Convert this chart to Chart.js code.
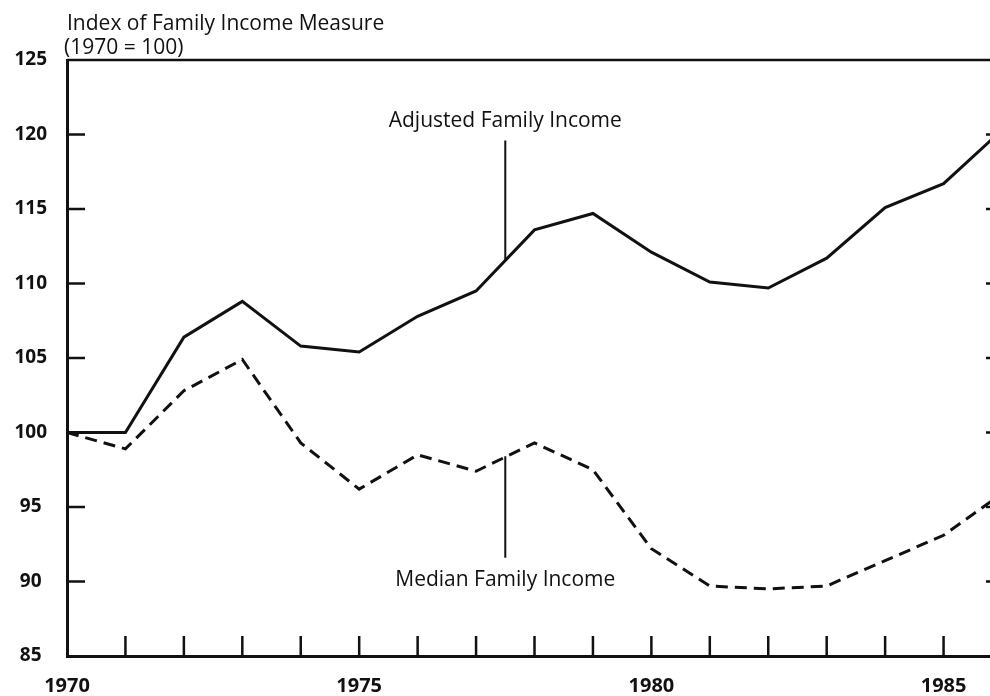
<!DOCTYPE html>
<html>
<head>
<meta charset="utf-8">
<script src="https://cdn.jsdelivr.net/npm/chart.js@4"></script>
<style>
  html, body { margin: 0; padding: 0; background: #fff; overflow: hidden; }
  #wrap { position: relative; width: 1002px; height: 696px; }
</style>
</head>
<body>
<div id="wrap"><canvas id="myChart"></canvas></div>
<script>
const years = [1970, 1971, 1972, 1973, 1974, 1975, 1976, 1977, 1978,
               1979, 1980, 1981, 1982, 1983, 1984, 1985, 1986];
const adjustedIncome = [100, 100, 106.4, 108.8, 105.8, 105.4, 107.8, 109.5, 113.6,
                        114.7, 112.1, 110.1, 109.7, 111.7, 115.1, 116.7, 120.3];
const medianIncome = [100, 98.9, 102.8, 104.9, 99.3, 96.2, 98.5, 97.4, 99.3,
                      97.5, 92.2, 89.7, 89.5, 89.7, 91.4, 93.1, 95.9];
const yearLabels = [1970, 1975, 1980, 1985];
const titleLines = ['Index of Family Income Measure', '(1970 = 100)'];

// callouts: label text, year of the leader line, where the text and line sit (index values)
const callouts = [
    { text: 'Adjusted Family Income', year: 1977.5, textAt: 120.5, from: 119.6, to: 111.5 },
    { text: 'Median Family Income', year: 1977.5, textAt: 89.7, from: 98.4, to: 91.6 }
];

const ink = '#111';
const textFont = '"Open Sans", sans-serif';

function toPoints(values) {
    return years.map((yr, i) => ({ x: yr, y: values[i] }));
}

const decor = {
    id: 'decor',
    afterDraw(chart) {
        const { ctx, chartArea: a, scales: { x, y } } = chart;
        ctx.save();
        ctx.strokeStyle = ink;
        ctx.lineWidth = 2.5;
        ctx.beginPath();
        // frame top
        ctx.moveTo(a.left, a.top);
        ctx.lineTo(a.right, a.top);
        // inward year ticks
        x.ticks.forEach(t => {
            if (t.value <= x.min || t.value >= x.max) return;
            const px = x.getPixelForValue(t.value);
            ctx.moveTo(px, a.bottom);
            ctx.lineTo(px, a.bottom - 20);
        });
        // inward value ticks, both sides
        y.ticks.forEach(t => {
            if (t.value <= y.min || t.value >= y.max) return;
            const py = y.getPixelForValue(t.value);
            ctx.moveTo(a.left, py);
            ctx.lineTo(a.left + 18, py);
            ctx.moveTo(a.right, py);
            ctx.lineTo(a.right - 16, py);
        });
        ctx.stroke();

        // leader lines
        ctx.lineWidth = 2;
        ctx.beginPath();
        callouts.forEach(c => {
            const px = x.getPixelForValue(c.year);
            ctx.moveTo(px, y.getPixelForValue(c.from));
            ctx.lineTo(px, y.getPixelForValue(c.to));
        });
        ctx.stroke();

        ctx.fillStyle = ink;
        ctx.font = '21px ' + textFont;
        ctx.textAlign = 'center';
        ctx.textBaseline = 'alphabetic';
        callouts.forEach(c => {
            ctx.fillText(c.text, x.getPixelForValue(c.year), y.getPixelForValue(c.textAt));
        });

        // axis title, two lines above the frame
        ctx.textAlign = 'left';
        ctx.fillText(titleLines[0], a.left, 30);
        ctx.fillText(titleLines[1], a.left - 3, 54);
        ctx.restore();
    }
};

const data = {
    datasets: [{
        label: 'Adjusted Family Income',
        data: toPoints(adjustedIncome),
        borderColor: ink,
        borderWidth: 3,
        pointRadius: 0,
        tension: 0
    },
    {
        label: 'Median Family Income',
        data: toPoints(medianIncome),
        borderColor: ink,
        borderWidth: 3,
        borderDash: [12, 7],
        pointRadius: 0,
        tension: 0
    }]
};

const config = {
    type: 'line',
    data: data,
    options: {
        responsive: true,
        maintainAspectRatio: false,
        animation: false,
        layout: { padding: { top: 60, left: 0, right: 0, bottom: 0 } },
        plugins: {
            legend: { display: false },
            tooltip: { enabled: false }
        },
        scales: {
            x: {
                type: 'linear',
                min: years[0],
                max: years[years.length - 1],
                grid: { display: false, drawTicks: false },
                border: { display: true, color: ink, width: 3 },
                ticks: {
                    stepSize: 1,
                    autoSkip: false,
                    maxRotation: 0,
                    padding: 18,
                    color: ink,
                    font: { family: textFont, size: 20, weight: 'bold' },
                    callback: v => yearLabels.includes(v) ? String(v) : ''
                },
                afterFit: s => {
                    s.height = 40;
                    s.paddingLeft = 0;
                    s.paddingRight = 0;
                }
            },
            y: {
                min: 85,
                max: 125,
                grid: { display: false, drawTicks: false },
                border: { display: true, color: ink, width: 3 },
                ticks: {
                    stepSize: 5,
                    padding: 20,
                    crossAlign: 'center',
                    color: ink,
                    font: { family: textFont, size: 19, weight: 'bold' }
                },
                afterFit: s => { s.width = 67; }
            }
        }
    },
    plugins: [decor]
};

const myChart = new Chart(document.getElementById('myChart'), config);
</script>
</body>
</html>
